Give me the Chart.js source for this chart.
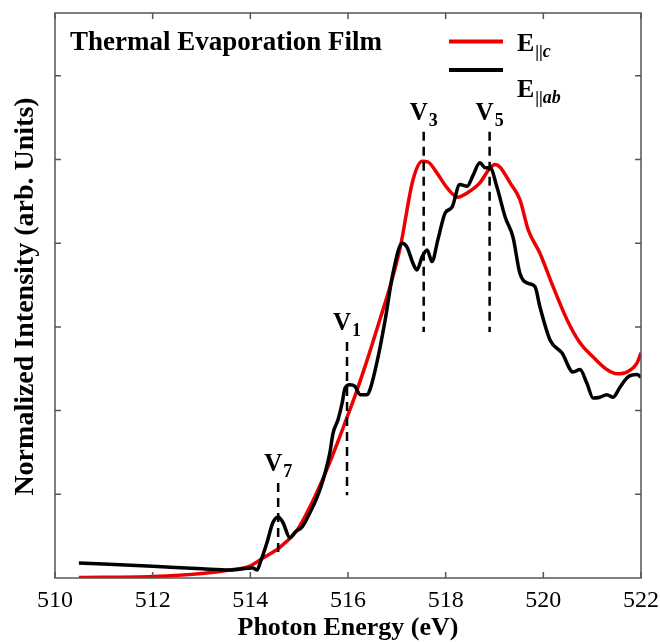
<!DOCTYPE html>
<html><head><meta charset="utf-8">
<script src="https://cdn.jsdelivr.net/npm/chart.js@4.4.0/dist/chart.umd.min.js"></script>
<style>html,body{margin:0;padding:0;background:#fff}#wrap{width:660px;height:642px}</style>
</head><body><div id="wrap"><canvas id="c" width="660" height="642"></canvas></div>
<script>
// ---- data ----
const energyRed = [510.49,512.0,513.01,513.58,513.99,514.26,514.61,514.96,515.22,515.57,515.84,515.98,516.14,516.39,516.66,516.86,517.07,517.33,517.52,517.64,517.82,518.03,518.25,518.44,518.70,518.91,519.01,519.11,519.32,519.52,519.69,519.93,520.20,520.49,520.75,521.02,521.30,521.51,521.71,521.92,522.0];
const intensityRed = [0.006,0.018,0.054,0.096,0.143,0.239,0.370,0.573,0.848,1.30,1.70,1.92,2.17,2.60,3.10,3.48,3.95,4.755,4.98,4.97,4.84,4.66,4.55,4.60,4.72,4.90,4.94,4.91,4.72,4.52,4.16,3.88,3.48,3.08,2.81,2.64,2.49,2.44,2.46,2.57,2.69];
const energyBlack = [510.49,512.0,513.01,513.58,514.05,514.14,514.2,514.34,514.46,514.57,514.67,514.81,514.92,515.06,515.22,515.37,515.49,515.63,515.69,515.80,515.88,515.94,516.04,516.14,516.25,516.39,516.45,516.59,516.76,516.92,517.11,517.21,517.33,517.41,517.52,517.62,517.72,517.84,517.99,518.13,518.29,518.44,518.56,518.70,518.81,518.91,519.05,519.22,519.38,519.52,519.69,519.83,519.93,520.14,520.38,520.61,520.75,520.89,521.02,521.16,521.30,521.43,521.57,521.73,521.92,522.0];
const intensityBlack = [0.18,0.14,0.11,0.096,0.12,0.096,0.18,0.42,0.66,0.73,0.66,0.48,0.55,0.61,0.78,0.97,1.17,1.50,1.72,1.90,2.09,2.27,2.31,2.29,2.19,2.19,2.25,2.57,3.08,3.64,4.00,3.95,3.76,3.68,3.84,3.92,3.78,4.04,4.36,4.43,4.70,4.68,4.81,4.96,4.90,4.90,4.67,4.31,4.07,3.64,3.52,3.48,3.24,2.84,2.69,2.46,2.49,2.33,2.15,2.16,2.19,2.16,2.28,2.40,2.43,2.40];
const markerEnergy = [514.57, 515.98, 517.55, 518.90];
const markerTop = [1.135, 2.82, 5.33, 5.33];
const markerBottom = [0.25, 0.99, 2.94, 2.94];
const markerSub = ['7', '1', '3', '5'];
const xTicks = [510, 512, 514, 516, 518, 520, 522];
const yTicks = [1, 2, 3, 4, 5, 6];
const seriesMain = ['E', 'E'];
const seriesSub = ['c', 'ab'];
const titleText = 'Thermal Evaporation Film';
const xTitle = 'Photon Energy (eV)';
const yTitle = 'Normalized Intensity (arb. Units)';

// ---- build ----
const RED = '#ee0000';
const SERIF = '"Liberation Serif","Times New Roman",serif';
const toPts = (xs, ys) => xs.map((x, i) => ({x, y: ys[i]}));

const datasets = [];
markerEnergy.forEach((e, i) => {
  datasets.push({data: [{x: e, y: markerTop[i]}, {x: e, y: markerBottom[i]}],
    borderColor: '#000', borderWidth: 2.5, borderDash: [9, 6], pointRadius: 0, order: 0});
});
datasets.push({label: 'E||ab', data: toPts(energyBlack, intensityBlack), borderColor: '#000',
  borderWidth: 3.5, pointRadius: 0, cubicInterpolationMode: 'monotone', order: 1});
datasets.push({label: 'E||c', data: toPts(energyRed, intensityRed), borderColor: RED,
  borderWidth: 3.5, pointRadius: 0, cubicInterpolationMode: 'monotone', order: 2});

function drawSub(ctx, x, y, main, mainFont, subParts, subDy) {
  ctx.font = mainFont; ctx.fillText(main, x, y);
  let cx = x + ctx.measureText(main).width + 1;
  subParts.forEach(([txt, f]) => { ctx.font = f; ctx.fillText(txt, cx, y + subDy); cx += ctx.measureText(txt).width; });
}

const annot = {
  id: 'annot',
  afterDraw(chart) {
    const ctx = chart.ctx, a = chart.chartArea, xs = chart.scales.x, ys = chart.scales.y;
    ctx.save();
    // frame
    ctx.strokeStyle = '#555'; ctx.lineWidth = 1.5;
    ctx.strokeRect(a.left, a.top, a.right - a.left, a.bottom - a.top);
    ctx.beginPath();
    xTicks.forEach(v => { const px = xs.getPixelForValue(v);
      ctx.moveTo(px, a.bottom); ctx.lineTo(px, a.bottom - 6);
      ctx.moveTo(px, a.top); ctx.lineTo(px, a.top + 6); });
    yTicks.forEach(v => { const py = ys.getPixelForValue(v);
      ctx.moveTo(a.left, py); ctx.lineTo(a.left + 6, py);
      ctx.moveTo(a.right, py); ctx.lineTo(a.right - 6, py); });
    ctx.stroke();
    ctx.fillStyle = '#000';
    // tick labels
    ctx.font = '24px ' + SERIF; ctx.textAlign = 'center'; ctx.textBaseline = 'alphabetic';
    xTicks.forEach(v => ctx.fillText(String(v), xs.getPixelForValue(v), a.bottom + 29));
    // axis titles
    ctx.font = 'bold 26px ' + SERIF;
    ctx.fillText(xTitle, (a.left + a.right) / 2, 635);
    ctx.save(); ctx.translate(33, (a.top + a.bottom) / 2 + 1); ctx.rotate(-Math.PI / 2);
    ctx.font = 'bold 28px ' + SERIF; ctx.fillText(yTitle, 0, 0); ctx.restore();
    // title
    ctx.textAlign = 'left';
    ctx.font = 'bold 27px ' + SERIF; ctx.fillText(titleText, 70, 50);
    // legend
    const legY = [41.5, 70], legCol = [RED, '#000'], legTextY = [51, 97];
    for (let i = 0; i < 2; i++) {
      ctx.strokeStyle = legCol[i]; ctx.lineWidth = 4; ctx.setLineDash([]);
      ctx.beginPath(); ctx.moveTo(449, legY[i]); ctx.lineTo(503, legY[i]); ctx.stroke();
      drawSub(ctx, 517, legTextY[i], seriesMain[i], 'bold 26px ' + SERIF,
        [['||', 'bold 17px ' + SERIF], [seriesSub[i], 'italic bold 18px ' + SERIF]], 6);
    }
    // V labels
    markerEnergy.forEach((e, i) => {
      const px = xs.getPixelForValue(e), py = ys.getPixelForValue(markerTop[i]);
      drawSub(ctx, px - 14, py - 12, 'V', 'bold 25px ' + SERIF, [[markerSub[i], 'bold 18px ' + SERIF]], 6);
    });
    ctx.restore();
  }
};

new Chart(document.getElementById('c'), {
  type: 'line',
  data: {datasets},
  options: {
    responsive: false, animation: false, devicePixelRatio: 1,
    layout: {padding: {left: 55, right: 19, top: 13, bottom: 64}},
    plugins: {legend: {display: false}, tooltip: {enabled: false}},
    scales: {
      x: {type: 'linear', min: 510, max: 522, display: false},
      y: {type: 'linear', min: 0, max: 6.75, display: false}
    }
  },
  plugins: [annot]
});
</script></body></html>
